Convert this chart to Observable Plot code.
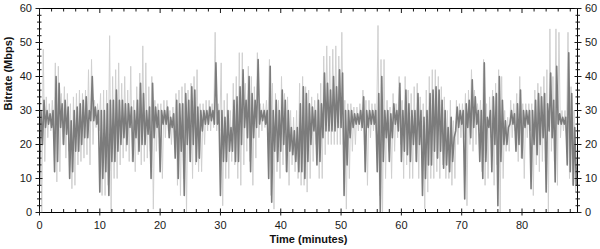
<!DOCTYPE html>
<html><head><meta charset="utf-8">
<script src="https://cdn.jsdelivr.net/npm/d3@7"></script>
<script src="https://cdn.jsdelivr.net/npm/@observablehq/plot@0.6"></script>
<style>body{margin:0;background:#fff;font-family:Arial,"Liberation Sans",sans-serif}</style>
</head><body><div id="chart"></div><script>
// Bitrate (Mbps) per half-minute bin: dense core range and spike range
const darkLo = [8,20,25,26,25,12,15,25,20,23,10,12,18,18,20,22,22,27,27,26,6,10,12,5,15,15,18,20,22,20,
25,15,22,18,20,20,23,10,22,25,12,26,26,22,25,16,10,18,5,20,15,20,15,16,24,26,26,27,26,26,
5,15,15,18,18,15,15,20,25,22,12,22,25,26,27,26,10,3,18,15,18,20,12,18,17,15,12,12,10,15,
20,24,14,15,22,24,24,24,24,25,25,5,14,22,25,26,26,25,12,25,26,26,12,0,15,22,15,22,26,24,
15,18,17,15,20,15,20,5,10,14,14,18,16,18,13,14,12,15,24,25,26,4,25,22,25,26,15,10,15,25,
12,20,2,15,20,20,26,26,18,20,16,25,26,7,20,17,20,22,6,24,22,9,26,26,26,14,12,8,8];
const darkHi = [30,33,30,29,30,40,38,32,33,31,27,30,31,32,33,34,30,40,31,30,30,30,32,33,33,36,33,33,32,32,
31,30,33,38,35,30,31,38,31,30,30,30,31,28,29,33,32,32,35,33,37,36,31,30,30,30,31,30,44,30,
30,28,30,25,33,34,37,42,33,40,35,33,45,30,30,30,43,30,33,30,36,33,30,25,24,25,32,37,35,32,
31,30,33,32,41,38,36,40,37,42,41,30,30,30,29,29,30,34,30,30,30,30,35,40,30,30,29,32,30,38,
30,36,32,30,30,35,30,28,30,35,36,37,36,33,30,25,28,22,31,30,30,32,33,39,34,30,30,44,28,30,
34,35,40,33,27,25,30,29,32,36,30,30,30,30,33,35,34,35,32,41,33,43,29,28,28,47,35,25,14];
const lightLo = [0,15,22,24,23,9,12,20,16,18,7,8,14,15,16,17,14,20,25,24,5,5,8,0,10,10,14,16,18,15,
15,12,17,14,15,16,18,1,18,22,10,22,24,20,22,8,5,10,0,15,10,14,12,12,20,24,24,25,24,24,
2,10,10,15,14,10,8,14,18,15,8,16,22,24,25,24,5,1,12,10,14,12,8,14,12,10,8,8,6,10,
15,20,10,10,17,20,20,20,20,20,20,1,10,18,20,24,24,20,8,22,24,23,5,0,10,18,10,18,22,20,
10,14,10,10,15,10,16,1,6,10,10,12,10,14,10,10,8,10,20,22,22,2,20,18,20,24,12,8,10,22,
8,14,0,10,18,18,22,24,15,16,10,22,24,5,14,12,15,15,0,18,15,8,22,24,22,10,8,6,6];
const lightHi = [38,48,34,32,33,44,43,35,37,35,32,34,35,36,35,36,42,45,33,32,35,36,36,52,40,42,44,38,40,36,
43,33,37,41,49,44,37,40,33,32,32,33,33,30,31,35,36,37,38,36,38,40,42,32,32,33,33,32,53,32,
44,33,35,30,38,40,47,47,38,43,40,37,47,32,32,33,45,38,35,33,40,35,34,30,28,30,38,40,37,36,
34,33,35,38,46,49,46,48,49,46,53,33,32,32,31,31,32,36,33,33,32,32,55,45,45,33,31,35,32,40,
33,40,36,35,37,38,34,32,36,40,42,42,40,37,34,30,33,27,33,32,32,35,36,42,36,32,33,45,32,34,
36,38,42,40,30,28,33,32,35,40,32,32,32,32,36,38,37,40,42,54,40,54,53,30,30,53,37,30,16];
const binWidth = 0.5; // minutes per bin
const xMajor = [0,10,20,30,40,50,60,70,80];
const xMinor = [2,4,6,8,12,14,16,18,22,24,26,28,32,34,36,38,42,44,46,48,52,54,56,58,62,64,66,68,72,74,76,78,82,84,86,88];
const yMajor = [0,10,20,30,40,50,60];
const yMinor = [2,4,6,8,12,14,16,18,22,24,26,28,32,34,36,38,42,44,46,48,52,54,56,58];

// each bin is traced as a low sample then a high sample, like the dense trace in the source
const dark = darkLo.flatMap((d,i)=>[{t:i*binWidth, v:d},{t:i*binWidth+binWidth/2, v:darkHi[i]}]);
const light = lightLo.flatMap((d,i)=>[{t:i*binWidth+binWidth/4, v:lightHi[i]},{t:i*binWidth+3*binWidth/4, v:d}]);
const none = () => "";
const chart = Plot.plot({
  width:600, height:249, marginLeft:39, marginRight:23, marginTop:8, marginBottom:37,
  x:{domain:[0,89.2]}, y:{domain:[0,60]},
  style:{fontFamily:"Arial, 'Liberation Sans', sans-serif", fontSize:"11px", color:"#1a1a1a", background:"#fff", overflow:"visible"},
  marks:[
    Plot.line(light,{x:"t", y:"v", stroke:"#d0d0d0", strokeWidth:1, clip:true}),
    Plot.line(dark,{x:"t", y:"v", stroke:"#7c7c7c", strokeWidth:1.6, clip:true}),
    Plot.frame({stroke:"#000", strokeWidth:1}),
    Plot.axisX(xMajor,{anchor:"bottom", tickSize:3.5, tickPadding:5, label:null}),
    Plot.axisX(xMajor,{anchor:"bottom", tickSize:-3.5, tickFormat:none, label:null}),
    Plot.axisX(xMinor,{anchor:"bottom", tickSize:-3, tickFormat:none, label:null}),
    Plot.axisX(xMajor,{anchor:"top", tickSize:-4, tickFormat:none, label:null}),
    Plot.axisX(xMinor,{anchor:"top", tickSize:-2.5, tickFormat:none, label:null}),
    Plot.axisY(yMajor,{anchor:"left", tickSize:3.5, tickPadding:4, label:null}),
    Plot.axisY(yMajor,{anchor:"left", tickSize:-3.5, tickFormat:none, label:null}),
    Plot.axisY(yMinor,{anchor:"left", tickSize:2, tickFormat:none, label:null}),
    Plot.axisY(yMinor,{anchor:"left", tickSize:-2.5, tickFormat:none, label:null}),
    Plot.axisY(yMajor,{anchor:"right", tickSize:3.5, tickPadding:4, label:null}),
    Plot.axisY(yMajor,{anchor:"right", tickSize:-3.5, tickFormat:none, label:null}),
    Plot.axisY(yMinor,{anchor:"right", tickSize:2, tickFormat:none, label:null}),
    Plot.axisY(yMinor,{anchor:"right", tickSize:-2.5, tickFormat:none, label:null}),
    Plot.text(["Time (minutes)"],{frameAnchor:"bottom", dy:30, fontWeight:"bold", fontSize:11, fill:"#111"}),
    Plot.text(["Bitrate (Mbps)"],{frameAnchor:"left", dx:-31, rotate:-90, fontWeight:"bold", fontSize:11, fill:"#111"})
  ]
});
document.getElementById("chart").appendChild(chart);
</script></body></html>
